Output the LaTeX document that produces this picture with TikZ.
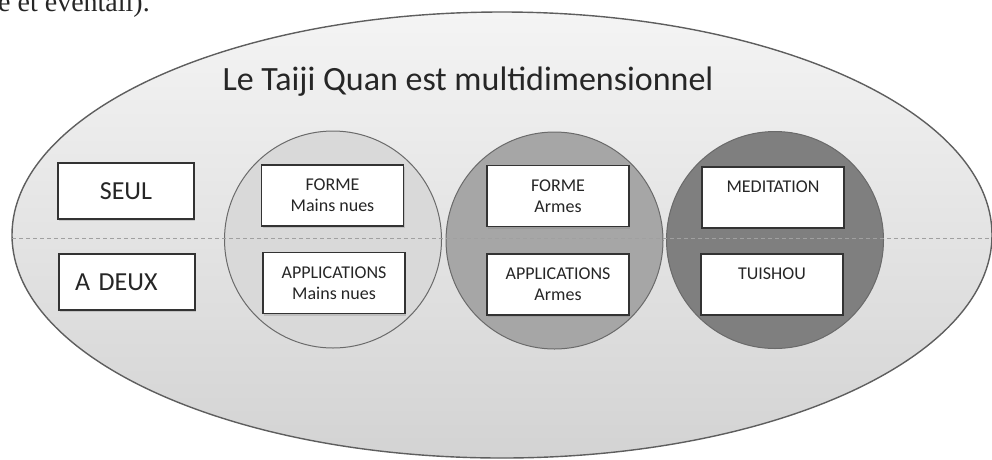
\documentclass[tikz,border=0pt]{standalone}
\usepackage{fontspec}
\setmainfont{Carlito}
\newfontfamily\capfont{Liberation Serif}
\usetikzlibrary{shapes.geometric,shadows}
\definecolor{ellTop}{HTML}{F4F4F4}
\definecolor{ellBot}{HTML}{D3D3D3}
\definecolor{ellLine}{HTML}{5E5E5E}
\definecolor{circA}{HTML}{D9D9D9}
\definecolor{circB}{HTML}{A6A6A6}
\definecolor{circC}{HTML}{7F7F7F}
\definecolor{circLine}{HTML}{6A6A6A}
\definecolor{boxLine}{HTML}{333333}
\definecolor{dashCol}{HTML}{A0A0A0}
\tikzset{
  outer/.style={ellipse, draw=ellLine, line width=1.4pt, top color=ellTop, bottom color=ellBot, minimum width=980pt, minimum height=446pt, inner sep=0pt},
  ring/.style={circle, draw=circLine, line width=1pt, minimum size=217pt, inner sep=0pt},
  boxbase/.style={draw=boxLine, line width=1.3pt, fill=white, align=center, text=black!85,
    drop shadow={shadow xshift=1.2pt, shadow yshift=-2pt, opacity=0.3}},
  bigbox/.style={boxbase, minimum width=136pt, minimum height=56pt, font=\fontsize{26}{30}\selectfont},
  smallbox/.style={boxbase, minimum width=142pt, minimum height=61pt, inner sep=0pt, font=\fontsize{18}{21}\selectfont},
  midline/.style={draw=dashCol, line width=0.9pt, dash pattern=on 4pt off 3pt},
}
\begin{document}
\begin{tikzpicture}[x=1pt,y=-1pt]
\useasboundingbox (0,0) rectangle (992,459);
\clip (0,0) rectangle (992,459);
\node[outer] (ell) at (502,235) {};
\node[ring, fill=circA] (c1) at (333,239.5) {};
\node[ring, fill=circB] (c2) at (554.5,240.5) {};
\node[ring, fill=circC] (c3) at (775,240) {};
\coordinate (dl) at (12,238);
\coordinate (dr) at (990,238);
\draw[midline] (dl) -- (dr);
\node[bigbox] (seul) at (126,191) {SEUL};
\node[bigbox, text width=104pt, inner xsep=16pt, align=left] (deux) at (127,282) {A DEUX};
\node[smallbox] (fmn) at (332.5,195.5) {FORME\\Mains nues};
\node[smallbox] (amn) at (334,283) {APPLICATIONS\\Mains nues};
\node[smallbox] (far) at (558,196) {FORME\\Armes};
\node[smallbox] (aar) at (558,284.5) {APPLICATIONS\\Armes};
\node[smallbox] (med) at (773,197.5) {MEDITATION\\\vphantom{M}};
\node[smallbox] (tui) at (772,284.5) {TUISHOU\\\vphantom{M}};
\node[anchor=base, font=\fontsize{34}{40}\selectfont, text=black!85] (title) at (468,90) {Le Taiji Quan est multidimensionnel};
\node[anchor=base west, inner sep=0pt, font=\capfont\fontsize{28}{32}\selectfont, text=black!85] (cap) at (-2,11) {e et éventail).};
\end{tikzpicture}
\end{document}
